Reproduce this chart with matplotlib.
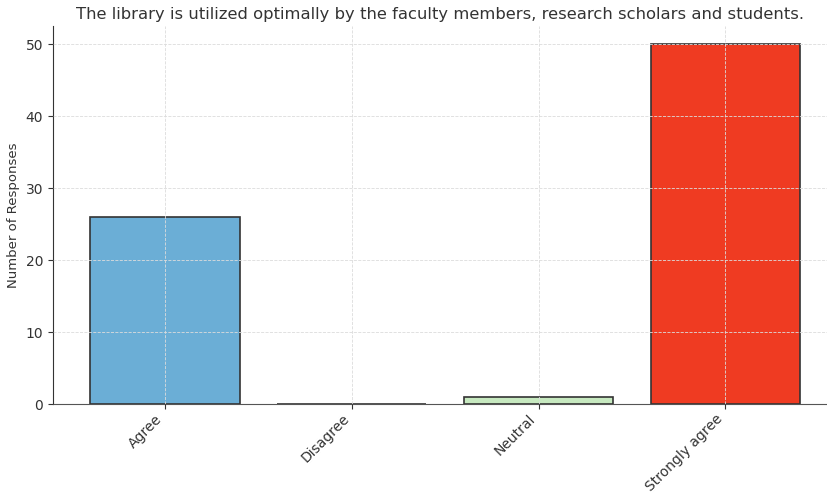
import matplotlib
matplotlib.use("Agg")
import matplotlib.pyplot as plt

categories = ["Agree", "Disagree", "Neutral", "Strongly agree"]
values = [26, 0, 1, 50]
colors = ["#6baed6", "#fdd0a2", "#c7e9c0", "#ef3b22"]

fig = plt.figure(figsize=(8.28, 4.94), dpi=100)
ax = fig.add_axes([0.064, 0.182, 0.936, 0.765])
ax.bar(categories, values, color=colors, edgecolor="#333333", linewidth=1.2, width=0.8, zorder=2)
ax.grid(True, linestyle="--", color="#dcdcdc", linewidth=0.6, zorder=3)
ax.set_axisbelow(False)
ax.set_xlim(-0.6, 3.55)
ax.set_ylim(0, 52.5)
ax.set_yticks([0, 10, 20, 30, 40, 50])
ax.set_title("The library is utilized optimally by the faculty members, research scholars and students.",
             fontsize=11.8, color="#333333", pad=5)
ax.set_ylabel("Number of Responses", fontsize=9.5, color="#333333", labelpad=4)
for s in ["top", "right"]:
    ax.spines[s].set_visible(False)
ax.spines["left"].set_color("#333333")
ax.spines["bottom"].set_color("#555555")
plt.setp(ax.get_xticklabels(), rotation=45, ha="right", fontsize=10, color="#333333")
plt.setp(ax.get_yticklabels(), fontsize=10, color="#333333")
ax.tick_params(colors="#333333")
ax.tick_params(axis="x", pad=2)
fig.savefig("out.png", dpi=100)
